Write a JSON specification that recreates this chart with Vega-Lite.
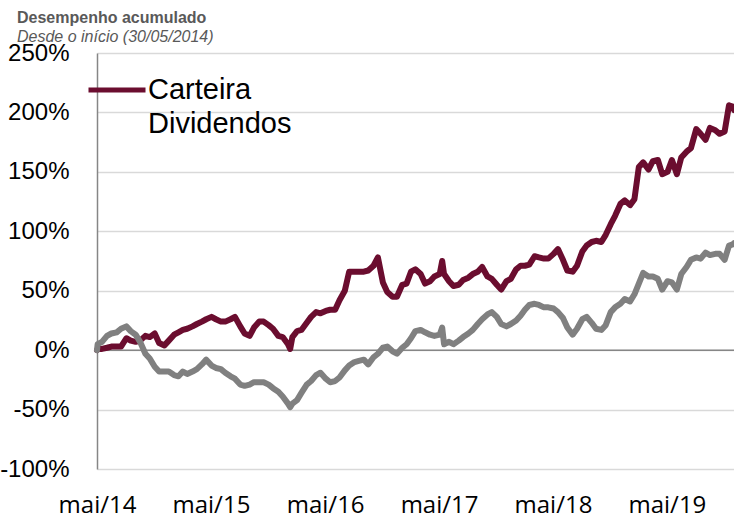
{
  "$schema": "https://vega.github.io/schema/vega-lite/v6.json",
  "width": 637,
  "height": 416,
  "autosize": {"type": "none"},
  "padding": {"left": 97, "top": 53, "right": 0, "bottom": 49},
  "background": "white",
  "title": {
    "text": "Desempenho acumulado",
    "subtitle": "Desde o início (30/05/2014)",
    "anchor": "start",
    "frame": "group",
    "dx": -80,
    "offset": -4,
    "font": "Liberation Sans",
    "fontSize": 16,
    "fontWeight": "bold",
    "color": "#595959",
    "subtitleFont": "Liberation Sans",
    "subtitleFontSize": 16,
    "subtitleFontStyle": "italic",
    "subtitleColor": "#595959",
    "subtitlePadding": 3
  },
  "config": {
    "view": {"stroke": null},
    "axisY": {
      "domainColor": "#868686",
      "domainWidth": 1.5,
      "gridColor": "#D9D9D9",
      "gridWidth": 1.5,
      "ticks": false,
      "labelFont": "Liberation Sans",
      "labelFontSize": 24,
      "labelColor": "black",
      "labelPadding": 28
    },
    "axisX": {
      "domain": false,
      "ticks": false,
      "grid": false,
      "labelFont": "Open Sans",
      "labelFontSize": 24,
      "labelColor": "black",
      "labelPadding": 43,
      "labelBaseline": "alphabetic",
      "labelFlush": false
    }
  },
  "datasets": {
    "carteira": [
      {"d": "2014-05-30", "v": 0}, {"d": "2014-06-01", "v": 1}, {"d": "2014-06-15", "v": 1},
      {"d": "2014-07-01", "v": 2}, {"d": "2014-07-15", "v": 3}, {"d": "2014-08-01", "v": 3},
      {"d": "2014-08-15", "v": 3}, {"d": "2014-09-01", "v": 10}, {"d": "2014-09-15", "v": 8},
      {"d": "2014-10-01", "v": 7}, {"d": "2014-10-15", "v": 8}, {"d": "2014-11-01", "v": 12},
      {"d": "2014-11-15", "v": 11}, {"d": "2014-12-01", "v": 14}, {"d": "2014-12-15", "v": 6},
      {"d": "2015-01-01", "v": 4}, {"d": "2015-01-15", "v": 8}, {"d": "2015-02-01", "v": 13},
      {"d": "2015-02-15", "v": 15}, {"d": "2015-03-01", "v": 17}, {"d": "2015-03-15", "v": 18},
      {"d": "2015-04-01", "v": 20}, {"d": "2015-04-15", "v": 22}, {"d": "2015-05-01", "v": 24},
      {"d": "2015-05-15", "v": 26}, {"d": "2015-06-01", "v": 28}, {"d": "2015-06-15", "v": 26},
      {"d": "2015-07-01", "v": 24}, {"d": "2015-07-15", "v": 24}, {"d": "2015-08-01", "v": 26},
      {"d": "2015-08-15", "v": 28}, {"d": "2015-09-01", "v": 20}, {"d": "2015-09-15", "v": 14},
      {"d": "2015-10-01", "v": 12}, {"d": "2015-10-15", "v": 19}, {"d": "2015-11-01", "v": 24},
      {"d": "2015-11-15", "v": 24}, {"d": "2015-12-01", "v": 21}, {"d": "2015-12-15", "v": 18},
      {"d": "2016-01-01", "v": 12}, {"d": "2016-01-15", "v": 11}, {"d": "2016-02-01", "v": 5},
      {"d": "2016-02-08", "v": 1}, {"d": "2016-02-15", "v": 11}, {"d": "2016-03-01", "v": 16},
      {"d": "2016-03-15", "v": 17}, {"d": "2016-04-01", "v": 23}, {"d": "2016-04-15", "v": 28},
      {"d": "2016-05-01", "v": 32}, {"d": "2016-05-15", "v": 31}, {"d": "2016-06-01", "v": 33},
      {"d": "2016-06-15", "v": 34}, {"d": "2016-07-01", "v": 34}, {"d": "2016-07-15", "v": 42},
      {"d": "2016-08-01", "v": 50}, {"d": "2016-08-15", "v": 66}, {"d": "2016-09-01", "v": 66},
      {"d": "2016-09-15", "v": 66}, {"d": "2016-10-01", "v": 66}, {"d": "2016-10-15", "v": 67},
      {"d": "2016-11-01", "v": 71}, {"d": "2016-11-15", "v": 78}, {"d": "2016-12-01", "v": 57},
      {"d": "2016-12-15", "v": 49}, {"d": "2017-01-01", "v": 45}, {"d": "2017-01-15", "v": 45},
      {"d": "2017-02-01", "v": 55}, {"d": "2017-02-15", "v": 56}, {"d": "2017-03-01", "v": 66},
      {"d": "2017-03-15", "v": 68}, {"d": "2017-04-01", "v": 64}, {"d": "2017-04-15", "v": 56},
      {"d": "2017-05-01", "v": 58}, {"d": "2017-05-15", "v": 62}, {"d": "2017-06-01", "v": 64},
      {"d": "2017-06-09", "v": 75}, {"d": "2017-06-15", "v": 64}, {"d": "2017-07-01", "v": 58},
      {"d": "2017-07-15", "v": 54}, {"d": "2017-08-01", "v": 55}, {"d": "2017-08-15", "v": 59},
      {"d": "2017-09-01", "v": 61}, {"d": "2017-09-15", "v": 64}, {"d": "2017-10-01", "v": 66},
      {"d": "2017-10-15", "v": 70}, {"d": "2017-11-01", "v": 62}, {"d": "2017-11-15", "v": 60},
      {"d": "2017-12-01", "v": 55}, {"d": "2017-12-15", "v": 51}, {"d": "2018-01-01", "v": 58},
      {"d": "2018-01-15", "v": 60}, {"d": "2018-02-01", "v": 68}, {"d": "2018-02-15", "v": 71},
      {"d": "2018-03-01", "v": 71}, {"d": "2018-03-15", "v": 72}, {"d": "2018-04-01", "v": 79},
      {"d": "2018-04-15", "v": 78}, {"d": "2018-05-01", "v": 77}, {"d": "2018-05-15", "v": 77},
      {"d": "2018-06-01", "v": 81}, {"d": "2018-06-15", "v": 85}, {"d": "2018-07-01", "v": 76},
      {"d": "2018-07-15", "v": 67}, {"d": "2018-08-01", "v": 66}, {"d": "2018-08-15", "v": 71},
      {"d": "2018-09-01", "v": 83}, {"d": "2018-09-15", "v": 88}, {"d": "2018-10-01", "v": 91},
      {"d": "2018-10-15", "v": 92}, {"d": "2018-11-01", "v": 91}, {"d": "2018-11-15", "v": 97},
      {"d": "2018-12-01", "v": 106}, {"d": "2018-12-15", "v": 113}, {"d": "2019-01-01", "v": 123},
      {"d": "2019-01-15", "v": 126}, {"d": "2019-02-01", "v": 122}, {"d": "2019-02-15", "v": 127},
      {"d": "2019-03-01", "v": 154}, {"d": "2019-03-15", "v": 158}, {"d": "2019-04-01", "v": 152},
      {"d": "2019-04-15", "v": 159}, {"d": "2019-05-01", "v": 160}, {"d": "2019-05-15", "v": 148},
      {"d": "2019-06-01", "v": 150}, {"d": "2019-06-15", "v": 160}, {"d": "2019-07-01", "v": 148},
      {"d": "2019-07-15", "v": 162}, {"d": "2019-08-01", "v": 167}, {"d": "2019-08-15", "v": 170},
      {"d": "2019-09-01", "v": 186}, {"d": "2019-09-15", "v": 182}, {"d": "2019-10-01", "v": 177},
      {"d": "2019-10-15", "v": 187}, {"d": "2019-11-01", "v": 185}, {"d": "2019-11-15", "v": 182},
      {"d": "2019-12-01", "v": 184}, {"d": "2019-12-15", "v": 206}, {"d": "2019-12-27", "v": 205},
      {"d": "2019-12-31", "v": 202}
    ],
    "indice": [
      {"d": "2014-05-30", "v": 0}, {"d": "2014-06-01", "v": 5}, {"d": "2014-06-15", "v": 7},
      {"d": "2014-07-01", "v": 12}, {"d": "2014-07-15", "v": 14}, {"d": "2014-08-01", "v": 15},
      {"d": "2014-08-15", "v": 18}, {"d": "2014-09-01", "v": 20}, {"d": "2014-09-15", "v": 16},
      {"d": "2014-10-01", "v": 13}, {"d": "2014-10-15", "v": 7}, {"d": "2014-11-01", "v": -3},
      {"d": "2014-11-15", "v": -7}, {"d": "2014-12-01", "v": -14}, {"d": "2014-12-15", "v": -18},
      {"d": "2015-01-01", "v": -18}, {"d": "2015-01-15", "v": -18}, {"d": "2015-02-01", "v": -21},
      {"d": "2015-02-15", "v": -22}, {"d": "2015-03-01", "v": -18}, {"d": "2015-03-15", "v": -20},
      {"d": "2015-04-01", "v": -18}, {"d": "2015-04-15", "v": -16}, {"d": "2015-05-01", "v": -12},
      {"d": "2015-05-15", "v": -8}, {"d": "2015-06-01", "v": -13}, {"d": "2015-06-15", "v": -15},
      {"d": "2015-07-01", "v": -16}, {"d": "2015-07-15", "v": -19}, {"d": "2015-08-01", "v": -22},
      {"d": "2015-08-15", "v": -24}, {"d": "2015-09-01", "v": -29}, {"d": "2015-09-15", "v": -30},
      {"d": "2015-10-01", "v": -29}, {"d": "2015-10-15", "v": -27}, {"d": "2015-11-01", "v": -27},
      {"d": "2015-11-15", "v": -27}, {"d": "2015-12-01", "v": -29}, {"d": "2015-12-15", "v": -32},
      {"d": "2016-01-01", "v": -35}, {"d": "2016-01-15", "v": -39}, {"d": "2016-02-01", "v": -45},
      {"d": "2016-02-08", "v": -48}, {"d": "2016-02-15", "v": -45}, {"d": "2016-03-01", "v": -42},
      {"d": "2016-03-15", "v": -36}, {"d": "2016-04-01", "v": -29}, {"d": "2016-04-15", "v": -26},
      {"d": "2016-05-01", "v": -21}, {"d": "2016-05-15", "v": -19}, {"d": "2016-06-01", "v": -24},
      {"d": "2016-06-15", "v": -27}, {"d": "2016-07-01", "v": -26}, {"d": "2016-07-15", "v": -23},
      {"d": "2016-08-01", "v": -17}, {"d": "2016-08-15", "v": -13}, {"d": "2016-09-01", "v": -10},
      {"d": "2016-09-15", "v": -9}, {"d": "2016-10-01", "v": -8}, {"d": "2016-10-15", "v": -12},
      {"d": "2016-11-01", "v": -6}, {"d": "2016-11-15", "v": -3}, {"d": "2016-12-01", "v": 2},
      {"d": "2016-12-15", "v": 3}, {"d": "2017-01-01", "v": -1}, {"d": "2017-01-15", "v": -3},
      {"d": "2017-02-01", "v": 2}, {"d": "2017-02-15", "v": 5}, {"d": "2017-03-01", "v": 10},
      {"d": "2017-03-15", "v": 16}, {"d": "2017-04-01", "v": 17}, {"d": "2017-04-15", "v": 15},
      {"d": "2017-05-01", "v": 13}, {"d": "2017-05-15", "v": 12}, {"d": "2017-06-01", "v": 13},
      {"d": "2017-06-09", "v": 19}, {"d": "2017-06-15", "v": 5}, {"d": "2017-07-01", "v": 7},
      {"d": "2017-07-15", "v": 5}, {"d": "2017-08-01", "v": 8}, {"d": "2017-08-15", "v": 11},
      {"d": "2017-09-01", "v": 14}, {"d": "2017-09-15", "v": 17}, {"d": "2017-10-01", "v": 22},
      {"d": "2017-10-15", "v": 26}, {"d": "2017-11-01", "v": 30}, {"d": "2017-11-15", "v": 32},
      {"d": "2017-12-01", "v": 28}, {"d": "2017-12-15", "v": 22}, {"d": "2018-01-01", "v": 20},
      {"d": "2018-01-15", "v": 22}, {"d": "2018-02-01", "v": 25}, {"d": "2018-02-15", "v": 29},
      {"d": "2018-03-01", "v": 34}, {"d": "2018-03-15", "v": 38}, {"d": "2018-04-01", "v": 39},
      {"d": "2018-04-15", "v": 38}, {"d": "2018-05-01", "v": 36}, {"d": "2018-05-15", "v": 36},
      {"d": "2018-06-01", "v": 35}, {"d": "2018-06-15", "v": 32}, {"d": "2018-07-01", "v": 27},
      {"d": "2018-07-15", "v": 19}, {"d": "2018-08-01", "v": 13}, {"d": "2018-08-15", "v": 18},
      {"d": "2018-09-01", "v": 26}, {"d": "2018-09-15", "v": 28}, {"d": "2018-10-01", "v": 23},
      {"d": "2018-10-15", "v": 18}, {"d": "2018-11-01", "v": 17}, {"d": "2018-11-15", "v": 21},
      {"d": "2018-12-01", "v": 32}, {"d": "2018-12-15", "v": 36}, {"d": "2019-01-01", "v": 39},
      {"d": "2019-01-15", "v": 43}, {"d": "2019-02-01", "v": 41}, {"d": "2019-02-15", "v": 47},
      {"d": "2019-03-01", "v": 56}, {"d": "2019-03-15", "v": 65}, {"d": "2019-04-01", "v": 62},
      {"d": "2019-04-15", "v": 62}, {"d": "2019-05-01", "v": 60}, {"d": "2019-05-15", "v": 51},
      {"d": "2019-06-01", "v": 58}, {"d": "2019-06-15", "v": 57}, {"d": "2019-07-01", "v": 51},
      {"d": "2019-07-15", "v": 64}, {"d": "2019-08-01", "v": 70}, {"d": "2019-08-15", "v": 76},
      {"d": "2019-09-01", "v": 78}, {"d": "2019-09-15", "v": 77}, {"d": "2019-10-01", "v": 82},
      {"d": "2019-10-15", "v": 80}, {"d": "2019-11-01", "v": 81}, {"d": "2019-11-15", "v": 81},
      {"d": "2019-12-01", "v": 76}, {"d": "2019-12-15", "v": 88}, {"d": "2019-12-27", "v": 89},
      {"d": "2019-12-31", "v": 90}
    ],
    "zero": [{"v": 0}]
  },
  "layer": [
    {
      "data": {"name": "zero"},
      "mark": {"type": "rule", "color": "#868686", "strokeWidth": 1.5},
      "encoding": {
        "y": {
          "field": "v", "type": "quantitative",
          "scale": {"domain": [-100, 250], "nice": false},
          "axis": {"values": [-100, -50, 0, 50, 100, 150, 200, 250], "labelExpr": "datum.value + '%'", "title": null}
        }
      }
    },
    {
      "data": {"name": "carteira"},
      "mark": {"type": "line", "strokeWidth": 6, "strokeCap": "round", "strokeJoin": "round"},
      "encoding": {
        "x": {
          "field": "d", "type": "temporal",
          "scale": {"domain": [{"year": 2014, "month": 5, "date": 30, "utc": true}, {"year": 2019, "month": 12, "date": 31, "utc": true}]},
          "axis": {
            "values": [
              {"year": 2014, "month": 5, "date": 30, "utc": true},
              {"year": 2015, "month": 5, "date": 30, "utc": true},
              {"year": 2016, "month": 5, "date": 30, "utc": true},
              {"year": 2017, "month": 5, "date": 30, "utc": true},
              {"year": 2018, "month": 5, "date": 30, "utc": true},
              {"year": 2019, "month": 5, "date": 30, "utc": true}
            ],
            "labelExpr": "'mai/' + utcFormat(datum.value, '%y')",
            "title": null
          }
        },
        "y": {
          "field": "v", "type": "quantitative",
          "scale": {"domain": [-100, 250], "nice": false},
          "axis": {"values": [-100, -50, 0, 50, 100, 150, 200, 250], "labelExpr": "datum.value + '%'", "title": null}
        },
        "color": {
          "datum": "Carteira Dividendos",
          "scale": {"range": ["#6B0D2F"]},
          "legend": {
            "orient": "none",
            "legendX": -11,
            "legendY": 6,
            "title": null,
            "padding": 0,
            "symbolType": "stroke",
            "symbolSize": 3249,
            "symbolStrokeWidth": 5,
            "labelFont": "Liberation Sans",
            "labelFontSize": 29,
            "labelColor": "black",
            "labelOffset": 0,
            "labelLimit": 500,
            "labelExpr": "['Carteira', 'Dividendos']",
            "encode": {"labels": {"update": {"lineHeight": {"value": 34}}}}
          }
        }
      }
    },
    {
      "data": {"name": "indice"},
      "mark": {"type": "line", "color": "#808080", "strokeWidth": 6, "strokeCap": "round", "strokeJoin": "round"},
      "encoding": {
        "x": {"field": "d", "type": "temporal"},
        "y": {"field": "v", "type": "quantitative"}
      }
    }
  ]
}
